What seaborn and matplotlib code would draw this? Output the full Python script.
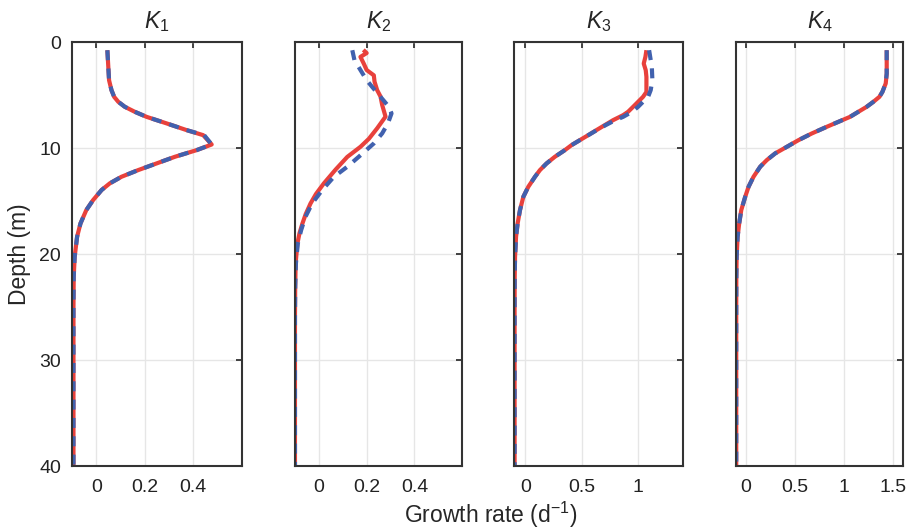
import numpy as np
import pandas as pd
import matplotlib
matplotlib.use("Agg")
import matplotlib.pyplot as plt
import seaborn as sns

sns.set_theme(style="white")
plt.rcParams['font.family'] = ['Liberation Sans', 'DejaVu Sans']
plt.rcParams['mathtext.fontset'] = 'custom'
plt.rcParams['mathtext.rm'] = 'Liberation Sans'
plt.rcParams['mathtext.it'] = 'Liberation Sans:italic'

titles = ["$K_1$", "$K_2$", "$K_3$", "$K_4$"]

# Panel K1 (observed and fitted nearly identical)
k1_depth = [0.73, 3.56, 4.50, 5.13, 5.60, 6.07, 6.54, 7.02, 7.64, 8.27, 8.75, 9.63, 10.16,
            10.79, 11.42, 12.05, 12.68, 13.30, 13.93, 14.88, 15.82, 17.08, 18.33, 20.22,
            22.1, 25, 30, 35, 40]
k1_obs = [0.045, 0.052, 0.062, 0.073, 0.090, 0.117, 0.158, 0.207, 0.290, 0.372, 0.441, 0.476, 0.414,
          0.324, 0.248, 0.172, 0.103, 0.055, 0.021, -0.014, -0.042, -0.066, -0.080, -0.090,
          -0.094, -0.095, -0.095, -0.095, -0.095]
k1_fit = [0.045, 0.052, 0.062, 0.073, 0.090, 0.117, 0.158, 0.207, 0.290, 0.372, 0.445, 0.476, 0.414,
          0.324, 0.248, 0.172, 0.103, 0.055, 0.021, -0.014, -0.042, -0.066, -0.080, -0.090,
          -0.094, -0.095, -0.095, -0.095, -0.095]

# Panel K2
k2_obs_depth = [0.7, 1.0, 1.36, 2.0, 2.6, 3.1, 3.7, 4.5, 5.1, 5.9, 7.0, 8.1, 9.1, 9.85, 10.8,
                12.0, 13.3, 14.3, 15.2, 16.2, 17.1, 18.0, 19.0, 20.8, 23, 26, 30, 35, 40]
k2_obs = [0.186, 0.20, 0.174, 0.188, 0.20, 0.23, 0.233, 0.244, 0.258, 0.265, 0.279, 0.244, 0.209,
          0.174, 0.119, 0.07, 0.021, -0.012, -0.035, -0.055, -0.069, -0.081, -0.09, -0.097,
          -0.099, -0.1, -0.1, -0.1, -0.1]
k2_fit_depth = [0.73, 1.67, 3.56, 4.19, 5.13, 6.07, 6.70, 7.64, 8.58, 9.53, 10.79, 11.73, 12.68,
                13.93, 15.19, 16.45, 17.70, 18.96, 20.85, 23, 26, 30, 35, 40]
k2_fit = [0.140, 0.149, 0.200, 0.223, 0.258, 0.293, 0.304, 0.289, 0.265, 0.230, 0.167, 0.119, 0.063,
          0.014, -0.028, -0.056, -0.074, -0.088, -0.096, -0.099, -0.1, -0.1, -0.1, -0.1]

# Panel K3
k3_obs_depth = [0.73, 1.36, 1.99, 2.62, 3.25, 4.19, 4.67, 5.13, 5.60, 6.07, 6.54, 6.86, 7.33, 7.80,
                8.27, 8.75, 9.22, 9.69, 10.16, 10.79, 11.42, 12.05, 12.68, 13.62, 14.56, 15.82,
                17.08, 18.33, 20.22, 22.1, 25, 30, 35, 40]
k3_obs = [1.077, 1.068, 1.053, 1.071, 1.077, 1.077, 1.077, 1.047, 1.003, 0.959, 0.914, 0.870, 0.781,
          0.707, 0.633, 0.559, 0.485, 0.411, 0.352, 0.263, 0.189, 0.130, 0.086, 0.027, -0.017,
          -0.047, -0.068, -0.082, -0.091, -0.094, -0.095, -0.095, -0.095, -0.095]
k3_fit_depth = [0.73, 2.3, 3.56, 4.5, 5.13, 5.60, 6.07, 6.54, 7.02, 7.33, 7.80, 8.27, 8.75, 9.22,
                9.69, 10.16, 10.79, 11.42, 12.05, 12.68, 13.62, 14.56, 15.82, 17.08, 18.33, 20.22,
                22.1, 25, 30, 35, 40]
k3_fit = [1.101, 1.125, 1.130, 1.115, 1.092, 1.047, 1.003, 0.950, 0.870, 0.800, 0.715, 0.636, 0.560,
          0.485, 0.411, 0.352, 0.263, 0.189, 0.130, 0.086, 0.027, -0.017, -0.047, -0.068, -0.082,
          -0.091, -0.094, -0.095, -0.095, -0.095, -0.095]

# Panel K4 (observed and fitted nearly identical)
k4_depth = [0.73, 2.93, 3.87, 4.67, 5.13, 5.60, 6.07, 6.54, 7.02, 7.49, 7.96, 8.59, 9.22, 9.85,
            10.47, 11.10, 11.73, 12.68, 13.62, 14.56, 15.82, 17.08, 18.33, 20.22, 22.1, 25, 30, 35, 40]
k4_obs = [1.432, 1.432, 1.422, 1.388, 1.358, 1.297, 1.229, 1.145, 1.060, 0.942, 0.824, 0.672, 0.537,
          0.419, 0.301, 0.216, 0.149, 0.081, 0.031, -0.003, -0.043, -0.064, -0.080, -0.090, -0.093,
          -0.094, -0.094, -0.094, -0.094]
k4_fit = [1.432, 1.432, 1.422, 1.388, 1.358, 1.297, 1.229, 1.145, 1.060, 0.942, 0.824, 0.672, 0.537,
          0.419, 0.301, 0.216, 0.149, 0.081, 0.031, -0.003, -0.043, -0.064, -0.080, -0.090, -0.093,
          -0.094, -0.094, -0.094, -0.094]

xlims = [(-0.1, 0.6), (-0.1, 0.6), (-0.1, 1.4), (-0.1, 1.6)]
xticks = [[0, 0.2, 0.4], [0, 0.2, 0.4], [0, 0.5, 1], [0, 0.5, 1, 1.5]]
xticklabels = [["0", "0.2", "0.4"], ["0", "0.2", "0.4"], ["0", "0.5", "1"], ["0", "0.5", "1", "1.5"]]
yticks = [0, 10, 20, 30, 40]

panels = [
    (k1_depth, k1_obs, k1_depth, k1_fit),
    (k2_obs_depth, k2_obs, k2_fit_depth, k2_fit),
    (k3_obs_depth, k3_obs, k3_fit_depth, k3_fit),
    (k4_depth, k4_obs, k4_depth, k4_fit),
]

red = "#E8413C"
blue = "#4161AE"

fig = plt.figure(figsize=(9.09, 5.31), dpi=100)
lefts = [0.0795, 0.3245, 0.5655, 0.8093]
widths = [0.1864, 0.184, 0.1856, 0.1844]
bottom, height = 0.122, 0.798

for i, (od, ov, fd, fv) in enumerate(panels):
    ax = fig.add_axes([lefts[i], bottom, widths[i], height])
    dfo = pd.DataFrame({"depth": od, "rate": ov})
    dff = pd.DataFrame({"depth": fd, "rate": fv})
    sns.lineplot(data=dfo, x="rate", y="depth", sort=False, estimator=None,
                 color=red, lw=3.0, ax=ax, solid_capstyle="butt", solid_joinstyle="round")
    sns.lineplot(data=dff, x="rate", y="depth", sort=False, estimator=None,
                 color=blue, lw=3.0, ax=ax, linestyle=(0, (2.4, 2.0)),
                 dash_capstyle="butt", dash_joinstyle="round")
    ax.set_xlim(*xlims[i])
    ax.set_ylim(40, 0)
    ax.set_xticks(xticks[i])
    ax.set_xticklabels(xticklabels[i], fontsize=14)
    ax.set_yticks(yticks)
    if i == 0:
        ax.set_yticklabels([str(t) for t in yticks], fontsize=14)
        ax.set_ylabel("Depth (m)", fontsize=16.5, labelpad=6)
    else:
        ax.set_yticklabels([])
        ax.set_ylabel("")
    ax.set_xlabel("")
    ax.grid(True, color="#e6e6e6", lw=1.0)
    ax.set_axisbelow(True)
    ax.tick_params(direction="in", top=True, right=True, length=4, width=1.3,
                   color="#333333", labelcolor="#222222")
    ax.tick_params(axis="x", pad=9)
    ax.tick_params(axis="y", pad=8)
    for s in ax.spines.values():
        s.set_color("#333333")
        s.set_linewidth(1.5)
    ax.set_title(titles[i], fontsize=16.5, pad=10)

fig.text(0.54, 0.03, "Growth rate (d$^{\u22121}$)", ha="center", va="center", fontsize=16.5)
fig.savefig("out.png", dpi=100)
